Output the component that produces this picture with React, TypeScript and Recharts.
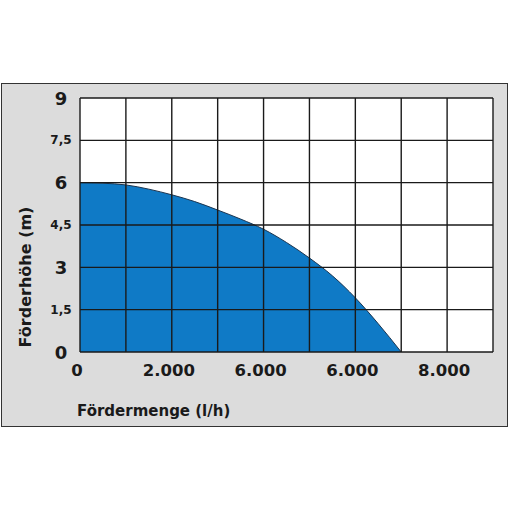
import React from 'react';
import { ComposedChart, Area, XAxis, YAxis, CartesianGrid, ReferenceLine, Label } from 'recharts';

// Pump curve: flow rate (l/h) vs. delivery head (m)
const flowLh = [0, 500, 1000, 1500, 2000, 2500, 3000, 3500, 4000, 4500, 5000, 5500, 6000, 6500, 7000];
const headM = [6.0, 5.98, 5.92, 5.77, 5.57, 5.33, 5.03, 4.71, 4.35, 3.88, 3.33, 2.7, 1.92, 1.0, 0];

const xGridTicks = [0, 1000, 2000, 3000, 4000, 5000, 6000, 7000, 8000, 9000];
const xLabelTicks = [0, 2000, 4000, 6000, 8000];
const xLabelTexts = ['0', '2.000', '6.000', '6.000', '8.000'];

const yTicks = [0, 1.5, 3, 4.5, 6, 7.5, 9];
const yTickLabels = ['0', '1,5', '3', '4,5', '6', '7,5', '9'];

const xTitle = 'Fördermenge (l/h)';
const yTitle = 'Förderhöhe (m)';

const data = flowLh.map((f, i) => ({ flow: f, head: headM[i] }));

const FONT = 'DejaVu Sans';
const INK = '#1a1a1a';

const XTick = (props: any) => {
  const { x, y, payload } = props;
  const idx = xLabelTicks.indexOf(payload.value);
  if (idx < 0) return null;
  return (
    <text x={x - 3} y={y + 16} textAnchor="middle" fontSize={16.5} fontWeight="bold" fill={INK} fontFamily={FONT}>
      {xLabelTexts[idx]}
    </text>
  );
};

const YTick = (props: any) => {
  const { x, y, payload } = props;
  const idx = yTicks.indexOf(payload.value);
  const label = yTickLabels[idx];
  const small = label.includes(',');
  return (
    <text x={x - 11} y={y} textAnchor="middle" dominantBaseline="central" fontSize={small ? 12 : 18} fontWeight="bold" fill={INK} fontFamily={FONT}>
      {label}
    </text>
  );
};

export default function App() {
  return (
    <div style={{ position: 'absolute', top: 0, left: 0, width: 511, height: 511, background: '#ffffff' }}>
      <div
        style={{
          position: 'absolute',
          top: 83,
          left: 1,
          width: 505,
          height: 342,
          background: '#dcdcdc',
          border: '1.5px solid #333333',
        }}
      />
      <div style={{ position: 'absolute', top: 0, left: 0 }}>
        <ComposedChart width={511} height={511} data={data} margin={{ top: 98, right: 18, bottom: 79, left: 0 }}>
          <CartesianGrid fill="#ffffff" horizontal={false} vertical={false} stroke="none" />
          <XAxis
            dataKey="flow"
            type="number"
            domain={[0, 9000]}
            ticks={xGridTicks}
            interval={0}
            height={80}
            axisLine={false}
            tickLine={false}
            tick={<XTick />}
          >
            <Label
              content={(p: any) => (
                <text x={p.viewBox.x - 3} y={p.viewBox.y + 64} fontSize={15} fontWeight="bold" fill={INK} fontFamily={FONT}>
                  {xTitle}
                </text>
              )}
            />
          </XAxis>
          <YAxis
            type="number"
            domain={[0, 9]}
            ticks={yTicks}
            interval={0}
            width={80}
            axisLine={false}
            tickLine={false}
            tick={<YTick />}
          >
            <Label
              content={(p: any) => {
                const cx = 25;
                const cy = p.viewBox.y + p.viewBox.height / 2 + 52;
                return (
                  <text x={cx} y={cy} transform={`rotate(-90 ${cx} ${cy})`} textAnchor="middle" dominantBaseline="central" fontSize={16} fontWeight="bold" fill={INK} fontFamily={FONT}>
                    {yTitle}
                  </text>
                );
              }}
            />
          </YAxis>
          <Area
            type="monotone"
            dataKey="head"
            stroke="#1b3550"
            strokeWidth={1}
            fill="#0f7ac6"
            fillOpacity={1}
            isAnimationActive={false}
            dot={false}
            activeDot={false}
          />
          {xGridTicks.map((v) => (
            <ReferenceLine key={'x' + v} x={v} stroke="#1a1a1a" strokeWidth={1.4} />
          ))}
          {yTicks.map((v) => (
            <ReferenceLine key={'y' + v} y={v} stroke="#1a1a1a" strokeWidth={1.4} />
          ))}
        </ComposedChart>
      </div>
    </div>
  );
}
